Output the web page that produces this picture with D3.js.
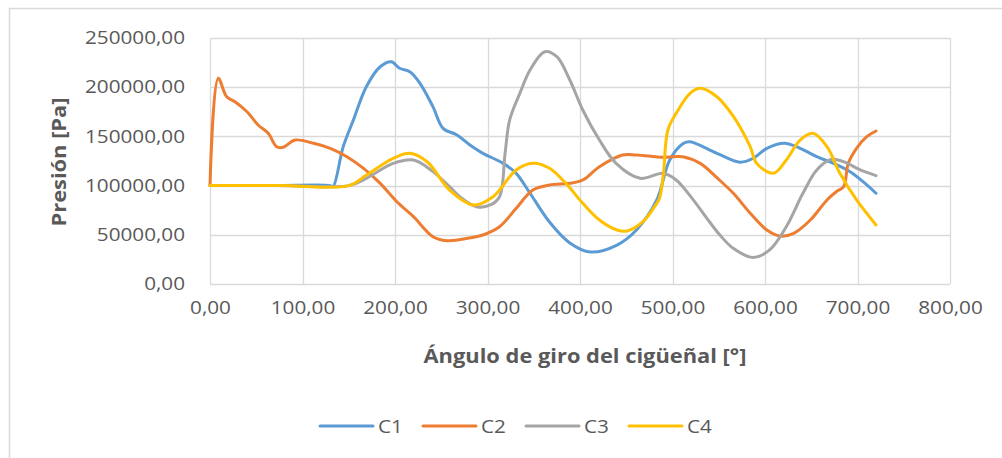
<!DOCTYPE html>
<html><head><meta charset="utf-8">
<script src="https://cdn.jsdelivr.net/npm/d3@7"></script>
<style>
html,body{margin:0;padding:0;background:#fff;}
text{font-family:"Open Sans",sans-serif;}
</style></head>
<body><svg id="chart" width="1002" height="458"></svg>
<script>
const seriesNames = ["C1","C2","C3","C4"];
const colors = ["#5B9BD5","#ED7D31","#A5A5A5","#FFC000"];
const xTicks = [0,100,200,300,400,500,600,700,800];
const yTicks = [0,50000,100000,150000,200000,250000];

const c1Angle = [0,70,130,133,144,155,169,184,196,205,216,227,241,252,267,281,295,317,331,346,367,389,411,440,461,483,497,512,519,548,573,587,602,621,638,656,674,692,706,720];
const c1Value = [100000,100000,100000,98900,139500,166700,200500,220800,225900,219200,215700,204000,180200,158200,151400,141300,132800,122600,112400,92200,63000,41700,32500,39600,54900,85400,126000,143000,144600,132800,123800,127700,137900,143000,137900,129400,122600,114100,104000,92200];

const c2Angle = [0,9,18,27,40,52,63,72,79,92,112,130,148,166,184,202,220,241,256,285,295,313,331,349,367,389,403,421,446,461,490,511,530,548,566,584,602,616,631,649,667,677,685,690,699,710,720];
const c2Value = [100000,209000,190300,185300,175100,161600,153100,139500,138900,146300,143000,137900,129400,117500,102300,83600,68400,48100,44000,47500,49800,58200,76900,95500,100600,102300,105700,119200,131100,131100,128700,129400,122600,108000,92000,72000,54900,48800,51500,65000,85400,93800,98900,122600,137900,149700,155500];

const c3Angle = [0,75,150,169,198,220,240,259,270,288,303,313,319,324,335,346,362,375,389,403,421,439,465,490,504,522,537,551,566,587,605,623,641,656,672,685,703,720];
const c3Value = [100000,100000,100000,107400,122600,126000,115000,98900,88700,78600,80300,88700,132800,166700,193800,217500,236100,231000,207300,176800,146300,122600,107400,112500,105700,86000,67000,50000,36000,27000,34600,58200,92200,115900,126700,124300,115900,110100];

const c4Angle = [0,75,150,169,198,216,235,259,285,306,331,349,367,385,403,421,440,451,468,483,486,490,495,504,519,530,548,566,584,591,609,623,638,652,667,681,699,720];
const c4Value = [100000,100000,100000,110700,127700,132800,124000,95500,80300,88700,115900,122600,117600,102000,82000,65000,54900,53900,63300,82000,87100,110000,156500,173500,193800,198900,190300,170000,139500,122600,112500,126000,146300,153100,139500,112500,85400,60000];

const yTitle = "Presión [Pa]";
const xTitle = "Ángulo de giro del cigüeñal [°]";

const angles = [c1Angle,c2Angle,c3Angle,c4Angle];
const values = [c1Value,c2Value,c3Value,c4Value];

const svg = d3.select("#chart");
const STRETCH = 1.15;
function stretch(sel){
  sel.each(function(){
    const w = this.getComputedTextLength();
    this.setAttribute("textLength", w*STRETCH);
    this.setAttribute("lengthAdjust","spacingAndGlyphs");
  });
}
const fmt = v => v.toFixed(2).replace(".", ",");

// chart border
svg.append("rect").attr("x",9.5).attr("y",8.5).attr("width",1100).attr("height",600)
  .attr("fill","none").attr("stroke","#D9D9D9").attr("stroke-width",1.5);

const L=210, R=950, T=38, B=284;
const x = d3.scaleLinear().domain([0,800]).range([L,R]);
const y = d3.scaleLinear().domain([0,250000]).range([B,T]);

// gridlines
const grid = svg.append("g");
grid.selectAll("line.h").data(yTicks).join("line")
  .attr("x1",L).attr("x2",R).attr("y1",d=>Math.round(y(d))+0.5).attr("y2",d=>Math.round(y(d))+0.5)
  .attr("stroke","#D9D9D9").attr("stroke-width",1.3);
grid.selectAll("line.v").data(xTicks).join("line")
  .attr("y1",T).attr("y2",B).attr("x1",d=>Math.round(x(d))+0.5).attr("x2",d=>Math.round(x(d))+0.5)
  .attr("stroke","#D9D9D9").attr("stroke-width",1.3);

// axes labels via d3 axes
const yAxis = svg.append("g").attr("transform",`translate(${L},0)`)
  .call(d3.axisLeft(y).tickValues(yTicks).tickFormat(fmt).tickSize(0).tickPadding(25));
yAxis.select(".domain").remove();
yAxis.selectAll("text").attr("font-size",18).attr("fill","#595959").style("font-family","'Open Sans',sans-serif");
stretch(yAxis.selectAll("text"));

const xAxis = svg.append("g").attr("transform",`translate(0,${B})`)
  .call(d3.axisBottom(x).tickValues(xTicks).tickFormat(fmt).tickSize(0).tickPadding(17));
xAxis.select(".domain").remove();
xAxis.selectAll("text").attr("font-size",18).attr("fill","#595959").style("font-family","'Open Sans',sans-serif");
stretch(xAxis.selectAll("text"));

// series lines
const line = d3.line().curve(d3.curveCatmullRom.alpha(0.5));
seriesNames.forEach((name,i)=>{
  const pts = angles[i].map((a,j)=>[x(a), y(values[i][j])]);
  svg.append("path").attr("d",line(pts)).attr("fill","none")
    .attr("stroke",colors[i]).attr("stroke-width",3).attr("stroke-linecap","round").attr("stroke-linejoin","round");
});

// titles
const yt = svg.append("text").attr("transform","translate(66,162) rotate(-90)")
  .attr("text-anchor","middle").attr("font-size",19).attr("font-weight","bold").attr("fill","#595959").text(yTitle);
stretch(yt);
const xt = svg.append("text").attr("x",585).attr("y",363)
  .attr("text-anchor","middle").attr("font-size",19).attr("font-weight","bold").attr("fill","#595959").text(xTitle);
stretch(xt);

// legend
const lg = svg.append("g");
seriesNames.forEach((name,i)=>{
  const lx = 320 + i*103;
  lg.append("line").attr("x1",lx).attr("x2",lx+53).attr("y1",426).attr("y2",426)
    .attr("stroke",colors[i]).attr("stroke-width",3).attr("stroke-linecap","round");
  const t = lg.append("text").attr("x",lx+58).attr("y",432.5).attr("font-size",18).attr("fill","#595959").text(name);
  stretch(t);
});
</script></body></html>
